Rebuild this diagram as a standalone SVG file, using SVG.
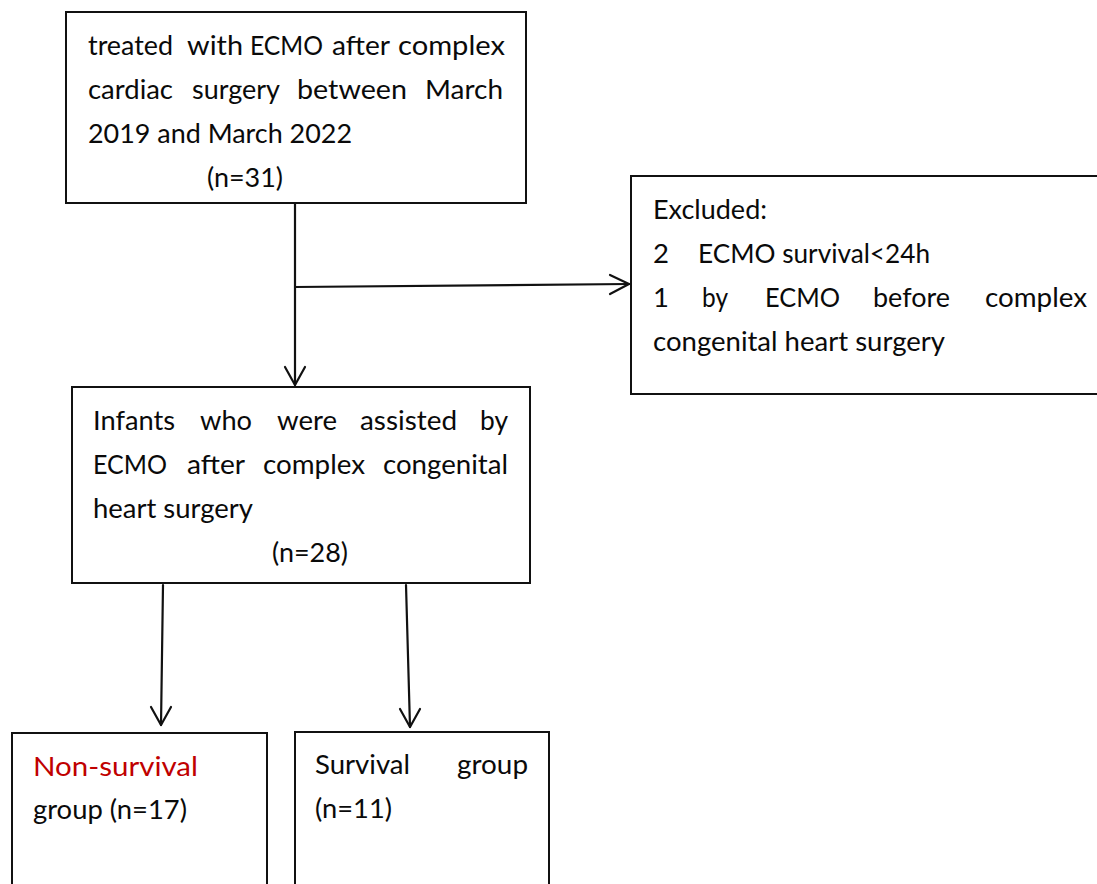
<svg xmlns="http://www.w3.org/2000/svg" width="1097" height="884" viewBox="0 0 1097 884">
<defs>
<style>
.box{fill:#fff;stroke:#111;stroke-width:2}
.t{font-family:Lato,"Open Sans","Liberation Sans",sans-serif;font-size:27.5px;fill:#0a0a0a}
.red{fill:#c00000}
.edge{fill:none;stroke:#111;stroke-width:2.2;stroke-linecap:round;stroke-linejoin:round}
</style>
</defs>
<rect x="0" y="0" width="1097" height="884" fill="#fff"/>
<g id="connectors">
<path class="edge" d="M295,204 L295,385"/>
<path class="edge" d="M285,367 L295,385 L305,367"/>
<path class="edge" d="M295,287 L629,284"/>
<path class="edge" d="M610,275 L629,284 L610,294"/>
<path class="edge" d="M163,585 L161,725"/>
<path class="edge" d="M151,707 L161,725 L171,707"/>
<path class="edge" d="M406,585 L410,727"/>
<path class="edge" d="M400,709 L410,727 L420,709"/>
</g>
<g id="node-start">
<rect class="box" x="66" y="12" width="460" height="191"/>
<text class="t"><tspan x="88" y="55" textLength="85" lengthAdjust="spacingAndGlyphs">treated</tspan><tspan x="187" y="55" textLength="56" lengthAdjust="spacingAndGlyphs">with</tspan><tspan x="250" y="55" textLength="73" lengthAdjust="spacingAndGlyphs">ECMO</tspan><tspan x="332" y="55" textLength="58" lengthAdjust="spacingAndGlyphs">after</tspan><tspan x="398" y="55" textLength="107" lengthAdjust="spacingAndGlyphs">complex</tspan></text>
<text class="t"><tspan x="88" y="99" textLength="85" lengthAdjust="spacingAndGlyphs">cardiac</tspan><tspan x="192" y="99" textLength="88" lengthAdjust="spacingAndGlyphs">surgery</tspan><tspan x="297" y="99" textLength="110" lengthAdjust="spacingAndGlyphs">between</tspan><tspan x="425" y="99" textLength="78" lengthAdjust="spacingAndGlyphs">March</tspan></text>
<text class="t" x="88" y="143" textLength="264" lengthAdjust="spacingAndGlyphs">2019 and March 2022</text>
<text class="t" x="207" y="187" textLength="76" lengthAdjust="spacingAndGlyphs">(n=31)</text>
</g>
<g id="node-excluded">
<rect class="box" x="631" y="176" width="480" height="218"/>
<text class="t" x="653" y="219" textLength="114" lengthAdjust="spacingAndGlyphs">Excluded:</text>
<text class="t"><tspan x="653" y="263">2</tspan><tspan x="698" y="263" textLength="232" lengthAdjust="spacingAndGlyphs">ECMO survival&lt;24h</tspan></text>
<text class="t"><tspan x="653" y="307">1</tspan><tspan x="702" y="307" textLength="26" lengthAdjust="spacingAndGlyphs">by</tspan><tspan x="765" y="307" textLength="75" lengthAdjust="spacingAndGlyphs">ECMO</tspan><tspan x="873" y="307" textLength="77" lengthAdjust="spacingAndGlyphs">before</tspan><tspan x="985" y="307" textLength="102" lengthAdjust="spacingAndGlyphs">complex</tspan></text>
<text class="t" x="653" y="351" textLength="292" lengthAdjust="spacingAndGlyphs">congenital heart surgery</text>
</g>
<g id="node-infants">
<rect class="box" x="72" y="387" width="458" height="196"/>
<text class="t"><tspan x="93" y="430" textLength="82" lengthAdjust="spacingAndGlyphs">Infants</tspan><tspan x="200" y="430" textLength="52" lengthAdjust="spacingAndGlyphs">who</tspan><tspan x="277" y="430" textLength="60" lengthAdjust="spacingAndGlyphs">were</tspan><tspan x="360" y="430" textLength="97" lengthAdjust="spacingAndGlyphs">assisted</tspan><tspan x="480" y="430" textLength="28" lengthAdjust="spacingAndGlyphs">by</tspan></text>
<text class="t"><tspan x="93" y="474" textLength="74" lengthAdjust="spacingAndGlyphs">ECMO</tspan><tspan x="187" y="474" textLength="58" lengthAdjust="spacingAndGlyphs">after</tspan><tspan x="263" y="474" textLength="102" lengthAdjust="spacingAndGlyphs">complex</tspan><tspan x="383" y="474" textLength="125" lengthAdjust="spacingAndGlyphs">congenital</tspan></text>
<text class="t" x="93" y="518" textLength="160" lengthAdjust="spacingAndGlyphs">heart surgery</text>
<text class="t" x="272" y="562" textLength="76" lengthAdjust="spacingAndGlyphs">(n=28)</text>
</g>
<g id="node-nonsurvival">
<rect class="box" x="12" y="733" width="255" height="170"/>
<text class="t red" x="33" y="776" textLength="165" lengthAdjust="spacingAndGlyphs">Non-survival</text>
<text class="t" x="33" y="819" textLength="154" lengthAdjust="spacingAndGlyphs">group (n=17)</text>
</g>
<g id="node-survival">
<rect class="box" x="295" y="732" width="254" height="170"/>
<text class="t"><tspan x="315" y="774" textLength="95" lengthAdjust="spacingAndGlyphs">Survival</tspan><tspan x="457" y="774" textLength="71" lengthAdjust="spacingAndGlyphs">group</tspan></text>
<text class="t" x="315" y="818" textLength="77" lengthAdjust="spacingAndGlyphs">(n=11)</text>
</g>
</svg>
